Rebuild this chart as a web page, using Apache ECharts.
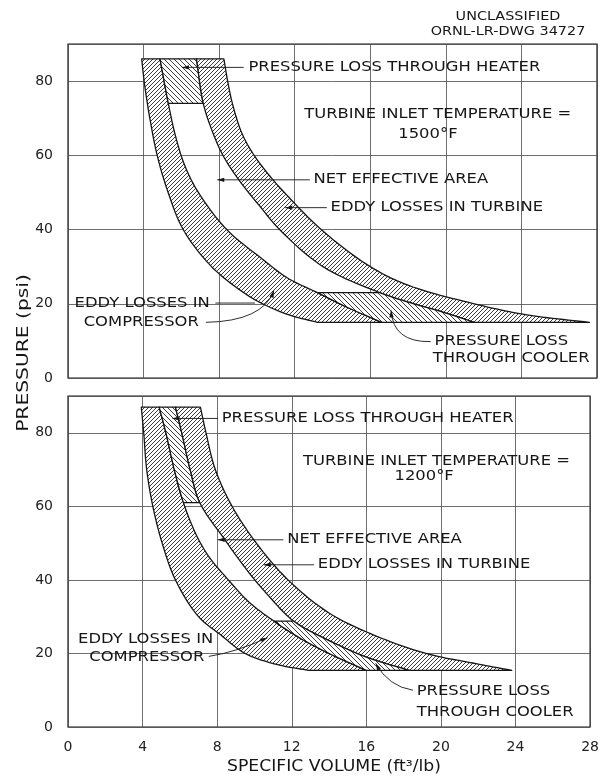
<!DOCTYPE html>
<html>
<head>
<meta charset="utf-8">
<script src="https://cdn.jsdelivr.net/npm/echarts@6.0.0/dist/echarts.min.js"></script>
<style>
html,body{margin:0;padding:0;background:#fff;}
#chart{width:602px;height:781px;}
</style>
</head>
<body>
<div id="chart"></div>
<script>
// ================= DATA =================
// specific volume (ft3/lb) vs pressure (psi)
const volumeTicks = [0, 4, 8, 12, 16, 20, 24, 28];
const pressureTicks = [0, 20, 40, 60, 80];

// ---- upper panel: turbine inlet temperature 1500 F ----
// pressure levels: compressor exit, heater exit, cooler entry, cooler exit
const hot_levels = [86, 74, 23, 15];
const hot_compressorOuter = [[3.9,86],[4.03,80],[4.2,74],[4.33,70],[4.72,60],[5.3,50],[6.1,40],[7.6,30],[9.3,23],[10.3,20],[11.7,17],[13.2,15]];
const hot_compressorInner = [[4.87,86],[5.31,74],[5.7,65],[6.2,57],[6.9,50],[8.4,40],[10.3,32],[11.6,27],[13.2,23],[14.8,19],[16.6,15]];
const hot_turbineInner    = [[6.8,86],[7.16,74],[7.6,67],[8.2,60],[9.1,53],[10.2,46],[11.2,40],[13.5,30],[16.5,23],[18.3,20],[20,17.5],[21.5,15]];
const hot_turbineOuter    = [[8.25,86],[8.45,80],[8.7,74],[9.2,66],[9.85,60],[10.85,53.4],[11.45,50],[13.4,40],[16,30],[18,25],[21.5,20],[24.3,17],[27.6,15]];

// ---- lower panel: turbine inlet temperature 1200 F ----
const cold_levels = [87, 61, 28.8, 15.4];
const cold_compressorOuter = [[3.93,87],[4.06,80],[4.22,70],[4.55,60],[5.05,50],[5.76,40],[7.0,30],[8.2,25],[9.5,20],[11.2,17],[12.9,15.4]];
const cold_compressorInner = [[4.89,87],[5.25,80],[5.7,70],[6.19,61],[6.9,52],[7.6,46],[8.6,40],[9.7,34],[11.04,28.8],[12.5,24],[14.2,19.5],[16.0,15.4]];
const cold_turbineInner    = [[5.76,87],[6.1,80],[6.55,70],[7.07,61],[8.4,51],[9.7,42],[10.7,36],[12.1,28.8],[14,23.5],[16,19],[18.3,15.4]];
const cold_turbineOuter    = [[7.1,87],[7.4,80],[7.9,70],[8.8,60],[10.1,50],[11.8,40],[14.0,31],[16.4,25],[19.2,20],[21.7,17.4],[23.8,15.4]];

// ---- texts ----
const hot_title = ['TURBINE INLET TEMPERATURE =', '1500°F'];
const cold_title = ['TURBINE INLET TEMPERATURE =', '1200°F'];
const labelTexts = ['PRESSURE LOSS THROUGH HEATER', 'NET EFFECTIVE AREA', 'EDDY LOSSES IN TURBINE', 'EDDY LOSSES IN', 'COMPRESSOR', 'PRESSURE LOSS', 'THROUGH COOLER'];

// ================= ANNOTATION LAYOUT (data-space anchors) =================
const hot_textAnchors = [[9.55,83.7],[13.0,53.4],[13.9,45.9],[0.35,20.2],[0.83,15.0],[19.4,9.8],[19.3,5.4]];
const hot_titleAnchors = [[12.5,71.0],[19.05,65.6]];
const hot_leaders = [
  {from:[9.3,83.7], to:[6.03,83.7], arrow:true},
  {from:[12.8,53.4], to:[7.9,53.4], arrow:true},
  {from:[13.7,45.9], to:[11.5,45.9], arrow:true},
  {from:[7.8,20.2], to:[9.9,20.2], arrow:false},
  {from:[7.3,15.0], ctrl:[10.3,15.3], to:[10.9,23.5], arrow:true},
  {from:[19.2,9.8], ctrl:[17.2,9.6], to:[17.1,18.2], arrow:true}
];
const cold_textAnchors = [[8.24,83.9],[11.76,50.9],[13.4,44.1],[0.54,23.8],[1.14,18.9],[18.7,9.6],[18.7,4.1]];
const cold_titleAnchors = [[12.6,72.2],[19.1,68.1]];
const cold_leaders = [
  {from:[8.05,83.9], to:[5.6,83.9], arrow:true},
  {from:[11.55,50.9], to:[8.03,50.9], arrow:true},
  {from:[13.2,44.1], to:[10.5,44.1], arrow:true},
  {from:[7.55,19.2], ctrl:[9.0,20.3], to:[10.7,24.3], arrow:true},
  {from:[18.5,10.0], ctrl:[17.2,11.0], to:[16.5,17.3], arrow:true}
];

// ================= RENDERING =================
const FONT = '"DejaVu Sans", "Liberation Sans", sans-serif';
const INK = '#161616';

function hatch(size, dir) {
  const c = document.createElement('canvas');
  c.width = size; c.height = size;
  const g = c.getContext('2d');
  g.fillStyle = '#fff'; g.fillRect(0, 0, size, size);
  g.strokeStyle = '#1a1a1a'; g.lineWidth = 0.85;
  g.beginPath();
  for (let k = -1; k <= 1; k++) {
    if (dir > 0) { g.moveTo(k * size, size); g.lineTo(k * size + size, 0); }
    else { g.moveTo(k * size, 0); g.lineTo(k * size + size, size); }
  }
  g.stroke();
  return c;
}
const hatchFwd = {image: hatch(4, 1), repeat: 'repeat'};
const hatchBack = {image: hatch(5, -1), repeat: 'repeat'};

function crPoint(p0, p1, p2, p3, t) {
  const d = (a, b) => Math.max(Math.pow(Math.hypot(b[0]-a[0], b[1]-a[1]), 0.5), 1e-3);
  const t0 = 0, t1 = t0 + d(p0, p1), t2 = t1 + d(p1, p2), t3 = t2 + d(p2, p3);
  const tt = t1 + (t2 - t1) * t;
  const lerp = (a, b, ta, tb) => [(tb-tt)/(tb-ta)*a[0] + (tt-ta)/(tb-ta)*b[0], (tb-tt)/(tb-ta)*a[1] + (tt-ta)/(tb-ta)*b[1]];
  const A1 = lerp(p0, p1, t0, t1), A2 = lerp(p1, p2, t1, t2), A3 = lerp(p2, p3, t2, t3);
  const B1 = lerp(A1, A2, t0, t2), B2 = lerp(A2, A3, t1, t3);
  return lerp(B1, B2, t1, t2);
}
function splineSegments(px, n) {
  const m = px.length, out = [];
  const get = i => {
    if (i < 0) return [2*px[0][0]-px[1][0], 2*px[0][1]-px[1][1]];
    if (i >= m) return [2*px[m-1][0]-px[m-2][0], 2*px[m-1][1]-px[m-2][1]];
    return px[i];
  };
  for (let i = 0; i < m - 1; i++) {
    const seg = [];
    for (let k = 0; k < n; k++) seg.push(crPoint(get(i-1), get(i), get(i+1), get(i+2), k / n));
    out.push(seg);
  }
  return out;
}
function piece(api, curve, a, b) {
  const px = curve.map(p => api.coord(p));
  const segs = splineSegments(px, 12);
  let res = [];
  for (let i = a; i < b; i++) res = res.concat(segs[i]);
  res.push(px[b]);
  return res;
}
const idx = (curve, y) => curve.findIndex(p => Math.abs(p[1] - y) < 1e-6);

function makePanel(levels, A, B, C, D) {
  const [top, heat, cool, bot] = levels;
  return [
    {fill: hatchFwd, build: api => piece(api, A, 0, A.length-1).concat(piece(api, B, 0, B.length-1).reverse())},
    {fill: hatchBack, build: api => piece(api, B, 0, idx(B, heat)).concat(piece(api, C, 0, idx(C, heat)).reverse())},
    {fill: hatchFwd, build: api => piece(api, C, 0, C.length-1).concat(piece(api, D, 0, D.length-1).reverse())},
    {fill: hatchBack, build: api => piece(api, B, idx(B, cool), B.length-1).concat(piece(api, C, idx(C, cool), C.length-1).reverse())}
  ];
}
const hotRegions = makePanel(hot_levels, hot_compressorOuter, hot_compressorInner, hot_turbineInner, hot_turbineOuter);
const coldRegions = makePanel(cold_levels, cold_compressorOuter, cold_compressorInner, cold_turbineInner, cold_turbineOuter);

function regionSeries(regions, gi) {
  return {
    type: 'custom', xAxisIndex: gi, yAxisIndex: gi, z: 3, silent: true,
    data: regions.map((r, i) => [i, 0]),
    renderItem(params, api) {
      const r = regions[params.dataIndex];
      return {type: 'polygon', shape: {points: r.build(api)},
        style: {fill: r.fill, stroke: INK, lineWidth: 1.3, lineJoin: 'round'}};
    }
  };
}

function annotSeries(anchors, titleTexts, titleAnchors, leaders, gi) {
  return {
    type: 'custom', xAxisIndex: gi, yAxisIndex: gi, z: 6, silent: true,
    data: [[0, 0]],
    renderItem(params, api) {
      const children = [];
      leaders.forEach(L => {
        const a = api.coord(L.from), b = api.coord(L.to);
        let prev = a;
        if (L.ctrl) {
          const c = api.coord(L.ctrl); prev = c;
          children.push({type: 'bezierCurve', shape: {x1: a[0], y1: a[1], x2: b[0], y2: b[1], cpx1: c[0], cpy1: c[1]},
            style: {stroke: INK, lineWidth: 0.9, fill: 'none'}});
        } else {
          children.push({type: 'line', shape: {x1: a[0], y1: a[1], x2: b[0], y2: b[1]}, style: {stroke: INK, lineWidth: 0.9}});
        }
        if (L.arrow) {
          const dx = b[0] - prev[0], dy = b[1] - prev[1], len = Math.hypot(dx, dy) || 1;
          const ux = dx / len, uy = dy / len, hl = 7, hw = 2.2;
          const bx = b[0] - ux * hl, by = b[1] - uy * hl;
          children.push({type: 'polygon', shape: {points: [b, [bx - uy * hw, by + ux * hw], [bx + uy * hw, by - ux * hw]]},
            style: {fill: INK}});
        }
      });
      const addText = (text, at, align) => {
        const p = api.coord(at);
        children.push({type: 'text', x: p[0], y: p[1], scaleX: 1.17,
          style: {text: text, x: 0, y: 0, align: align, verticalAlign: 'middle', font: '14px ' + FONT, fill: INK}});
      };
      labelTexts.forEach((t, i) => addText(t, anchors[i], 'left'));
      addText(titleTexts[0], titleAnchors[0], 'left');
      addText(titleTexts[1], titleAnchors[1], 'center');
      return {type: 'group', children};
    }
  };
}

const axisLabelStyle = {fontFamily: FONT, fontSize: 14, color: '#222'};
const splitLineStyle = {show: true, lineStyle: {color: '#4a4a4a', width: 0.8}};

function xAxisFor(gi, showLabels) {
  return {
    type: 'value', gridIndex: gi, min: volumeTicks[0], max: volumeTicks[volumeTicks.length-1],
    interval: volumeTicks[1] - volumeTicks[0],
    axisLine: {show: false}, axisTick: {show: false},
    axisLabel: Object.assign({show: showLabels, margin: 13}, axisLabelStyle),
    splitLine: splitLineStyle
  };
}
function yAxisFor(gi) {
  return {
    type: 'value', gridIndex: gi, min: pressureTicks[0], max: 90,
    interval: pressureTicks[1] - pressureTicks[0],
    axisLine: {show: false}, axisTick: {show: false},
    axisLabel: Object.assign({margin: 15, showMaxLabel: false}, axisLabelStyle),
    splitLine: splitLineStyle
  };
}

const chart = echarts.init(document.getElementById('chart'), null, {renderer: 'canvas'});
chart.setOption({
  backgroundColor: '#fff',
  animation: false,
  grid: [
    {left: 68, width: 529, top: 44, height: 334, show: true, borderColor: INK, borderWidth: 1.2},
    {left: 68, width: 529, top: 396, height: 331, show: true, borderColor: INK, borderWidth: 1.2}
  ],
  xAxis: [xAxisFor(0, false), xAxisFor(1, true)],
  yAxis: [yAxisFor(0), yAxisFor(1)],
  graphic: [
    {type: 'text', x: 508, y: 17, scaleX: 1.2, style: {text: 'UNCLASSIFIED', align: 'center', verticalAlign: 'middle', font: '12px ' + FONT, fill: INK}},
    {type: 'text', x: 508, y: 32, scaleX: 1.2, style: {text: 'ORNL-LR-DWG 34727', align: 'center', verticalAlign: 'middle', font: '12px ' + FONT, fill: INK}},
    {type: 'text', x: 24, y: 353, rotation: Math.PI / 2, scaleX: 1.35, style: {text: 'PRESSURE (psi)', align: 'center', verticalAlign: 'middle', font: '15px ' + FONT, fill: INK}},
    {type: 'text', x: 334, y: 767, scaleX: 1.15, style: {text: 'SPECIFIC VOLUME (ft³/lb)', align: 'center', verticalAlign: 'middle', font: '15px ' + FONT, fill: INK}}
  ],
  series: [
    regionSeries(hotRegions, 0),
    regionSeries(coldRegions, 1),
    annotSeries(hot_textAnchors, hot_title, hot_titleAnchors, hot_leaders, 0),
    annotSeries(cold_textAnchors, cold_title, cold_titleAnchors, cold_leaders, 1)
  ]
});
</script>
</body>
</html>
